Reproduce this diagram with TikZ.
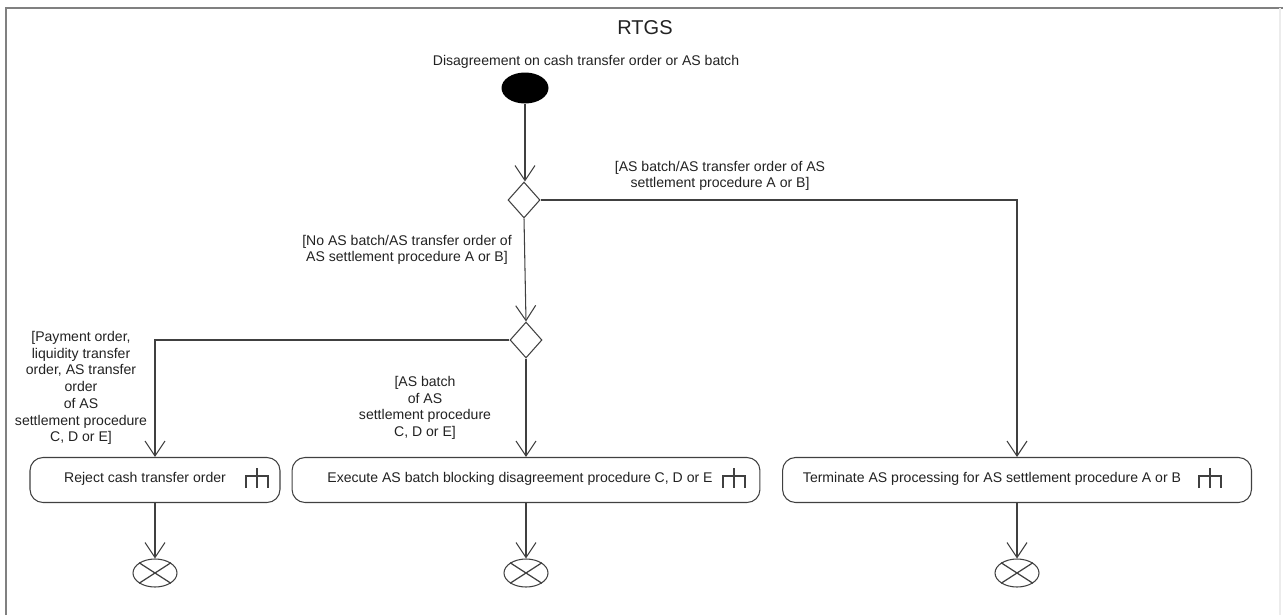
\documentclass[tikz,border=0pt]{standalone}
\usepackage{fontspec}
\setmainfont{Liberation Sans}
\usetikzlibrary{arrows.meta,shapes.geometric}
\definecolor{linegray}{HTML}{404040}
\definecolor{txtgray}{HTML}{222222}
\newcommand{\rakeicon}[1]{%
\draw [linegray, line width=0.7pt] #1 ++(0,-8) -- ++(0,20);
\draw [linegray, line width=0.7pt] #1 ++(-11,12) -- ++(0,-12) -- ++(22,0) -- ++(0,12);
}
\tikzset{
flow/.style = {draw = linegray, line width = 0.6pt, -{Straight Barb[length=0.3cm, width=0.4cm]}},
txt/.style = {text = txtgray, font = \fontsize{8}{9.5}\selectfont, align = center, inner sep = 0pt},
action/.style = {draw = linegray, line width = 0.6pt, rounded corners = 0.26cm, minimum height = 0.9cm, inner sep = 0pt},
decision/.style = {draw = linegray, line width = 0.6pt, diamond, minimum width = 0.64cm, minimum height = 0.72cm, inner sep = 0pt},
initial/.style = {fill = black, ellipse, minimum width = 0.94cm, minimum height = 0.62cm, inner sep = 0pt},
final/.style = {draw = linegray, line width = 0.6pt, ellipse, minimum width = 0.88cm, minimum height = 0.56cm, inner sep = 0pt}
}
\begin{document}
\begin{tikzpicture}[x = 0.02cm, y = -0.02cm]
\useasboundingbox (0,0) rectangle (1283,615);
% frame
\draw [gray, line width = 1.2pt] (6,615) -- (6,8) -- (1283,8);
\draw [gray!15, line width = 0.8pt] (1280,8) -- (1280,615);
\node [txt, font = \fontsize{11.4}{13}\selectfont] (title) at (645,28) {RTGS};
% start
\node [txt] (startlabel) at (586,62) {Disagreement on cash transfer order or AS batch};
\node [initial] (start) at (525,88) {};
\node [decision] (d1) at (524,200) {};
\node [decision] (d2) at (526,340) {};
% actions
\node [action, minimum width = 5cm] (reject) at (155,480) {};
\node [txt] (rejecttext) at (145,479) {Reject cash transfer order};
\rakeicon{(257,476)}
\node [action, minimum width = 9.36cm] (block) at (526,480) {};
\node [txt] (blocktext) at (520,479) {Execute AS batch blocking disagreement procedure C, D or E};
\rakeicon{(734,476)}
\node [action, minimum width = 9.38cm] (term) at (1017,480) {};
\node [txt] (termtext) at (992,479) {Terminate AS processing for AS settlement procedure A or B};
\rakeicon{(1210,476)}
% ends
\foreach \n/\x in {reject/155, block/526, term/1017}{
\node [final] (end\n) at (\x,573) {};
\draw [linegray, line width = 0.7pt] (end\n.north west) -- (end\n.south east);
\draw [linegray, line width = 0.7pt] (end\n.south west) -- (end\n.north east);
\draw [flow] (\n) -- (end\n);
}
% flows
\draw [flow] (start) -- (start |- d1.north);
\draw [flow] (d1.south) -- (d2.north);
\draw [flow] (d1.east) -| (term.north);
\draw [flow] (d2.west) -| (reject.north);
\draw [flow] (d2.south) -- (d2.south |- block.north);
% guards
\node [txt] (g1) at (720,176) {[AS batch/AS transfer order of AS\\settlement procedure A or B]};
\node [txt] (g2) at (407,250) {[No AS batch/AS transfer order of\\AS settlement procedure A or B]};
\node [txt] (g3) at (81,388) {[Payment order,\\liquidity transfer\\order, AS transfer\\order\\of AS\\settlement procedure\\C, D or E]};
\node [txt] (g4) at (425,408) {[AS batch\\of AS\\settlement procedure\\C, D or E]};
\end{tikzpicture}
\end{document}
